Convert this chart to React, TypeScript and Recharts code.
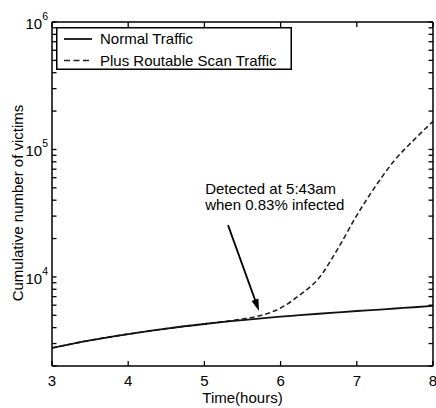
import React from 'react';
import { LineChart, Line, XAxis, YAxis, ReferenceLine, ReferenceDot, Legend } from 'recharts';

// ---- data ----
const hours = [3, 3.5, 4, 4.5, 5, 5.25, 5.5, 5.75, 6, 6.25, 6.5, 6.75, 7, 7.25, 7.5, 7.75, 8];
const normalTraffic = [2770, 3180, 3560, 3930, 4270, 4430, 4580, 4730, 4880, 5010, 5140, 5270, 5400, 5520, 5650, 5780, 5920];
const scanTraffic = [2770, 3180, 3560, 3930, 4280, 4450, 4680, 5000, 5700, 7200, 9750, 16600, 30400, 51900, 82800, 119000, 166000];

const seriesNames = ['Normal Traffic', 'Plus Routable Scan Traffic'];
const xTicks = [3, 4, 5, 6, 7, 8];
const yTicks = [
  2000, 3000, 4000, 5000, 6000, 7000, 8000, 9000,
  10000, 20000, 30000, 40000, 50000, 60000, 70000, 80000, 90000,
  100000, 200000, 300000, 400000, 500000, 600000, 700000, 800000, 900000,
  1000000,
];
const yMajorTicks = [10000, 100000, 1000000];
const xDomain = [3, 8];
const yDomain = [2000, 1000000];
const xLabel = 'Time(hours)';
const yLabel = 'Cumulative number of victims';
const noteLines = ['Detected at 5:43am', 'when 0.83% infected'];
const noteAnchor = { x: 5.01, y: 44700 };
const arrowSegment = [
  { x: 5.31, y: 25500 },
  { x: 5.717, y: 5400 },
];

const data = hours.map((h, i) => ({ h, normal: normalTraffic[i], scan: scanTraffic[i] }));

// ---- layout ----
const CHART_W = 436;
const CHART_H = 408;
const MARGIN = { top: 21, right: 2, bottom: 0, left: 12 };
const Y_AXIS_W = 40;
const X_AXIS_H = 42;

const FONT = '"Liberation Sans", Arial, Helvetica, sans-serif';
const INK = '#000';
const AXIS_LINE = { stroke: INK, strokeWidth: 1.5 };
const TICK_LINE = { stroke: INK, strokeWidth: 1.3 };

const isMajor = (v: number) => yMajorTicks.includes(v);
const okNums = (...vals: any[]) => vals.every((v) => typeof v === 'number' && !isNaN(v));

// labels only; tick marks are the axes' own (inward) tick lines
const BottomTick = (p: any) => {
  const { x, y, payload } = p;
  if (!okNums(x, y)) return <g />;
  return (
    <text x={x} y={y + 25} textAnchor="middle" fontSize={15} fill={INK} fontFamily={FONT}>
      {payload.value}
    </text>
  );
};

const LeftTick = (p: any) => {
  const { x, y, payload } = p;
  if (!okNums(x, y)) return <g />;
  const v = payload.value;
  if (!isMajor(v)) return <g />;
  const exp = Math.round(Math.log10(v));
  return (
    <text x={x - 8.5} y={y + 7} textAnchor="end" fontSize={15} fill={INK} fontFamily={FONT}>
      10
      <tspan dy={-9} fontSize={10.5}>
        {exp}
      </tspan>
    </text>
  );
};

const NoLabel = () => <g />;

const YTitle = (p: any) => {
  const vb = p.viewBox || { x: MARGIN.left, y: 22, width: Y_AXIS_W, height: 344 };
  const cx = vb.x + 11;
  const cy = vb.y + vb.height / 2 + 9;
  return (
    <text
      x={0}
      y={0}
      transform={`translate(${cx},${cy}) rotate(-90)`}
      textAnchor="middle"
      fontSize={15}
      fill={INK}
      fontFamily={FONT}
    >
      {yLabel}
    </text>
  );
};

const ArrowShape = (p: any) => {
  const { x1, y1, x2, y2 } = p;
  if (!okNums(x1, y1, x2, y2)) return <g />;
  const dx = x2 - x1;
  const dy = y2 - y1;
  const len = Math.hypot(dx, dy) || 1;
  const ux = dx / len;
  const uy = dy / len;
  const hl = 12;
  const hw = 3.6;
  const bx = x2 - ux * hl;
  const by = y2 - uy * hl;
  return (
    <g>
      <line x1={x1} y1={y1} x2={bx + ux * 1} y2={by + uy * 1} stroke={INK} strokeWidth={1.8} />
      <polygon
        points={`${x2},${y2} ${bx - uy * hw},${by + ux * hw} ${bx + uy * hw},${by - ux * hw}`}
        fill={INK}
      />
    </g>
  );
};

const NoteShape = (p: any) => {
  const { cx, cy } = p;
  if (!okNums(cx, cy)) return <g />;
  return (
    <text x={cx} y={cy} fontSize={15} fill={INK} fontFamily={FONT}>
      <tspan x={cx}>{noteLines[0]}</tspan>
      <tspan x={cx} dy={16}>
        {noteLines[1]}
      </tspan>
    </text>
  );
};

const LegendBox = () => (
  <svg width={236} height={43} style={{ display: 'block', overflow: 'visible' }}>
    <rect x={0.75} y={0.75} width={234.5} height={41.5} fill="#fff" stroke={INK} strokeWidth={1.5} />
    <line x1={8} y1={12} x2={36} y2={12} stroke="#111" strokeWidth={1.8} />
    <text x={44} y={17} fontSize={15} fill={INK} fontFamily={FONT}>
      {seriesNames[0]}
    </text>
    <line x1={8} y1={33.5} x2={36} y2={33.5} stroke="#222" strokeWidth={1.6} strokeDasharray="6 3.5" />
    <text x={44} y={38.5} fontSize={15} fill={INK} fontFamily={FONT}>
      {seriesNames[1]}
    </text>
  </svg>
);

export default function App() {
  return (
    <div style={{ position: 'absolute', left: 0, top: 0, width: CHART_W, height: CHART_H, background: '#fff' }}>
      <LineChart width={CHART_W} height={CHART_H} data={data} margin={MARGIN} style={{ fontFamily: FONT }}>
        <XAxis
          dataKey="h"
          type="number"
          domain={xDomain}
          ticks={xTicks}
          interval={0}
          allowDataOverflow
          tickSize={-5}
          tickMargin={0}
          tickLine={TICK_LINE}
          tick={<BottomTick />}
          axisLine={AXIS_LINE}
          height={X_AXIS_H}
          label={{ value: xLabel, position: 'insideBottom', offset: 5, fill: INK, fontSize: 15 }}
        />
        <XAxis
          xAxisId="top"
          orientation="top"
          dataKey="h"
          type="number"
          domain={xDomain}
          ticks={xTicks}
          interval={0}
          allowDataOverflow
          tickSize={-5}
          tickMargin={0}
          tickLine={TICK_LINE}
          tick={<NoLabel />}
          axisLine={AXIS_LINE}
          height={1}
        />
        <YAxis
          type="number"
          scale="log"
          domain={yDomain}
          ticks={yTicks}
          interval={0}
          allowDataOverflow
          tickSize={-4.5}
          tickMargin={0}
          tickLine={TICK_LINE}
          tick={<LeftTick />}
          axisLine={AXIS_LINE}
          width={Y_AXIS_W}
          label={(props: any) => <YTitle {...props} />}
        />
        <YAxis
          yAxisId="right"
          orientation="right"
          type="number"
          scale="log"
          domain={yDomain}
          ticks={yTicks}
          interval={0}
          allowDataOverflow
          tickSize={-4.5}
          tickMargin={0}
          tickLine={TICK_LINE}
          tick={<NoLabel />}
          axisLine={AXIS_LINE}
          width={1}
        />
        <Legend
          layout="vertical"
          verticalAlign="middle"
          align="center"
          wrapperStyle={{ left: 56, top: 27, width: 236, height: 43 }}
          content={() => <LegendBox />}
        />
        <Line
          dataKey="scan"
          name={seriesNames[1]}
          type="monotone"
          stroke="#222"
          strokeWidth={1.6}
          strokeDasharray="5 3"
          dot={false}
          activeDot={false}
          isAnimationActive={false}
        />
        <Line
          dataKey="normal"
          name={seriesNames[0]}
          xAxisId="top"
          yAxisId="right"
          type="monotone"
          stroke="#111"
          strokeWidth={1.8}
          dot={false}
          activeDot={false}
          isAnimationActive={false}
        />
        <ReferenceLine segment={arrowSegment} ifOverflow="visible" shape={(p: any) => <ArrowShape {...p} />} />
        <ReferenceDot
          x={noteAnchor.x}
          y={noteAnchor.y}
          r={0}
          ifOverflow="visible"
          shape={(p: any) => <NoteShape {...p} />}
        />
      </LineChart>
    </div>
  );
}
